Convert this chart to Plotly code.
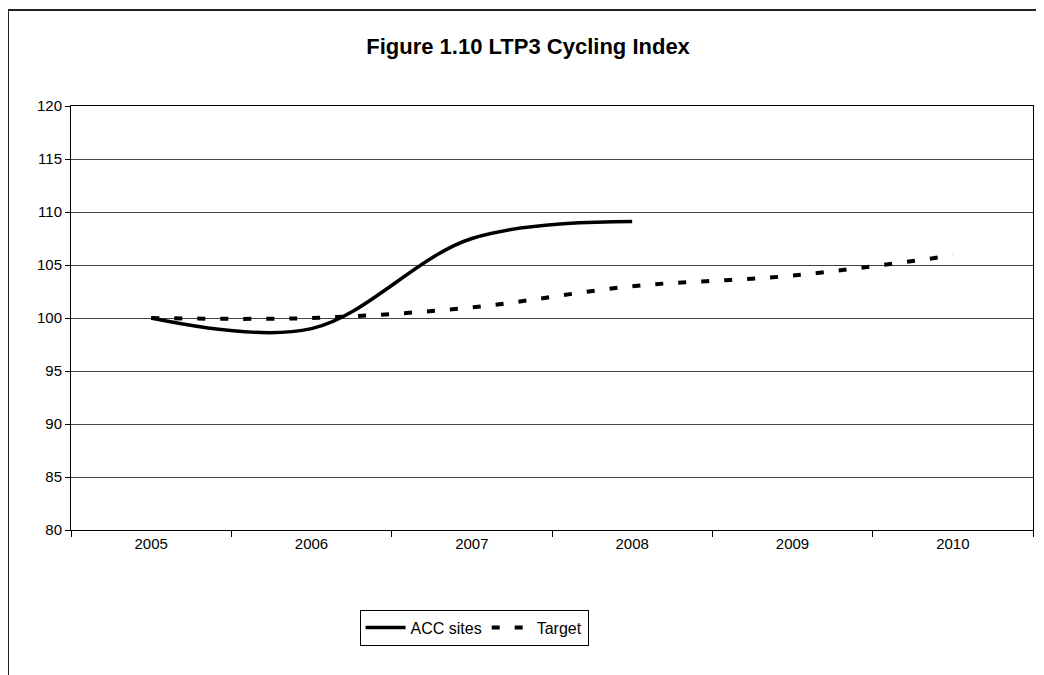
import plotly.graph_objects as go

years = ["2005", "2006", "2007", "2008", "2009", "2010"]
acc_years = ["2005", "2006", "2007", "2008"]
acc_sites = [100, 99, 107.5, 109.1]
target = [100, 100, 101, 103, 104, 105.9]

FONT = "Liberation Sans, Arial, sans-serif"

fig = go.Figure()
fig.add_trace(go.Scatter(
    x=acc_years, y=acc_sites, name="ACC sites", mode="lines",
    line=dict(color="black", width=3.5, shape="spline", smoothing=1),
))
fig.add_trace(go.Scatter(
    x=years, y=target, name="Target", mode="lines",
    line=dict(color="black", width=4, shape="spline", smoothing=1, dash="8px,15px"),
))

fig.update_layout(
    width=1036, height=667,
    margin=dict(l=63, r=11, t=98, b=145),
    paper_bgcolor="white", plot_bgcolor="white",
    font=dict(family=FONT, size=15, color="black"),
    title=dict(text="<b>Figure 1.10 LTP3 Cycling Index</b>", x=0.502, xanchor="center",
               y=0.943, yanchor="middle", font=dict(family=FONT, size=22, color="black")),
    showlegend=True,
    legend=dict(orientation="h", x=0.419, xanchor="center", y=-0.23, yanchor="middle",
                bordercolor="black", borderwidth=1, bgcolor="white",
                font=dict(family=FONT, size=16, color="black"),
                itemwidth=40, tracegroupgap=0),
    xaxis=dict(type="category", categoryorder="array", categoryarray=years,
               range=[-0.5, 5.5], tickson="boundaries", ticks="outside", ticklen=6,
               tickcolor="black", showline=True, linecolor="black", linewidth=1,
               mirror=True, showgrid=False, zeroline=False,
               tickfont=dict(family=FONT, size=15)),
    yaxis=dict(range=[80, 120], dtick=5, tick0=80, ticks="outside", ticklen=5,
               tickcolor="black", showline=True, linecolor="black", linewidth=1,
               mirror=True, showgrid=True, gridcolor="#444", gridwidth=1,
               zeroline=False, tickfont=dict(family=FONT, size=15)),
    shapes=[
        dict(type="line", xref="paper", yref="paper", x0=-0.0655, x1=-0.0655,
             y0=-0.36, y1=1.2264, line=dict(color="#222", width=2)),
        dict(type="line", xref="paper", yref="paper", x0=-0.0655, x1=1.02,
             y0=1.2264, y1=1.2264, line=dict(color="#222", width=2)),
    ],
)

fig.write_html("out.html")
